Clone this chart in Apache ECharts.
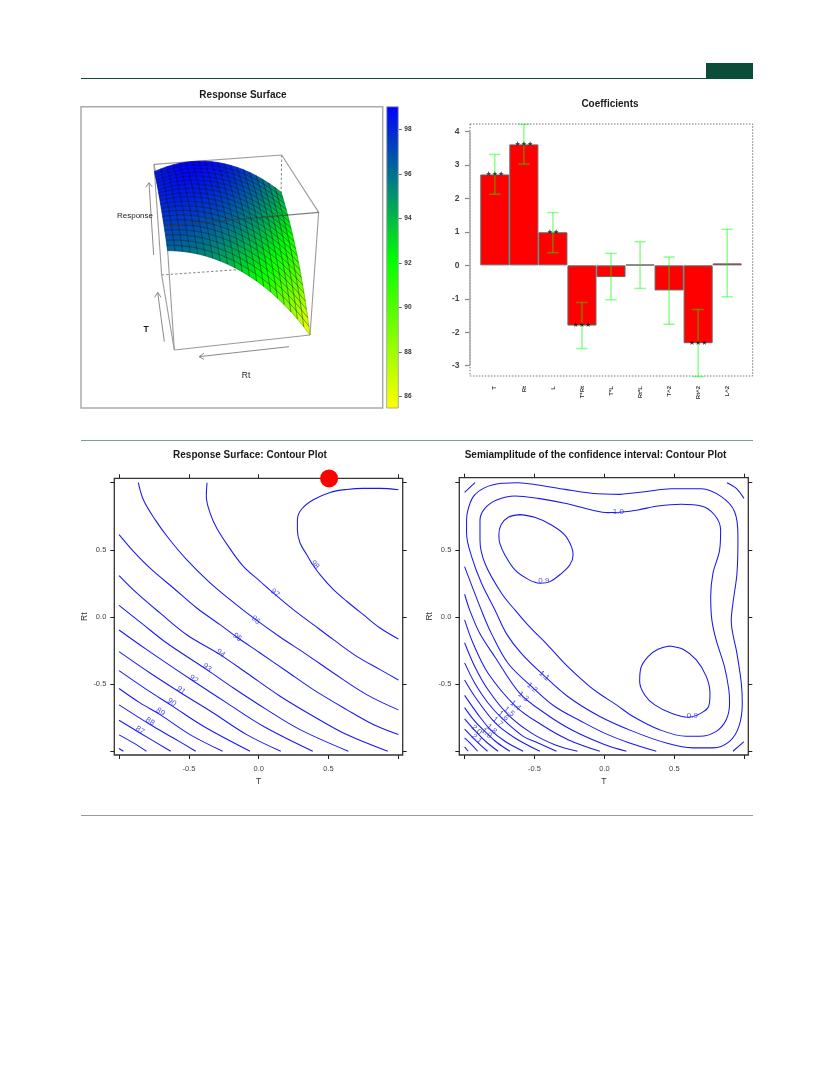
<!DOCTYPE html>
<html><head><meta charset="utf-8">
<style>html,body{margin:0;padding:0;background:#fff}#c{width:833px;height:1091px}</style>
<script src="https://cdn.jsdelivr.net/npm/echarts@6/dist/echarts.min.js"></script>
</head><body><div id="c"></div>
<script>
// ---------- coefficients ----------
const coefNames=['T','Rt','L','T*Rt','T*L','Rt*L','T^2','Rt^2','L^2'];
const coefValues=[2.72,3.62,0.99,-1.80,-0.35,0.02,-0.75,-2.33,0.06];
const coefLow=[2.13,3.03,0.38,-2.49,-1.03,-0.69,-1.76,-3.33,-0.94];
const coefHigh=[3.32,4.22,1.58,-1.11,0.36,0.71,0.25,-1.32,1.08];
const coefStars=['★★★','★★★','★★','★★★','','','','★★★',''];
const coefTicks=[-3,-2,-1,0,1,2,3,4];
// ---------- response surface: rows Rt -1..1, columns T -1..1 ----------
const surfaceAxis=[-1,-.9,-.8,-.7,-.6,-.5,-.4,-.3,-.2,-.1,0,.1,.2,.3,.4,.5,.6,.7,.8,.9,1];
const surfaceZ=[
[84.96,85.55,86.13,86.70,87.25,87.78,88.30,88.81,89.30,89.77,90.23,90.67,91.10,91.52,91.92,92.30,92.67,93.03,93.37,93.69,94.00],
[85.95,86.53,87.09,87.63,88.17,88.68,89.18,89.67,90.14,90.60,91.04,91.47,91.88,92.27,92.66,93.02,93.37,93.71,94.03,94.34,94.63],
[86.89,87.45,87.99,88.52,89.03,89.53,90.02,90.48,90.94,91.38,91.80,92.21,92.60,92.98,93.34,93.69,94.03,94.35,94.65,94.94,95.21],
[87.78,88.32,88.85,89.36,89.85,90.33,90.80,91.25,91.68,92.10,92.51,92.90,93.28,93.64,93.98,94.31,94.63,94.93,95.21,95.49,95.74],
[88.63,89.15,89.66,90.15,90.63,91.09,91.54,91.97,92.39,92.79,93.18,93.55,93.91,94.25,94.58,94.89,95.19,95.47,95.74,95.99,96.23],
[89.43,89.93,90.42,90.90,91.36,91.80,92.23,92.65,93.05,93.43,93.80,94.15,94.49,94.82,95.13,95.42,95.70,95.97,96.22,96.45,96.67],
[90.19,90.68,91.15,91.60,92.05,92.47,92.88,93.28,93.66,94.03,94.38,94.72,95.04,95.34,95.64,95.91,96.17,96.42,96.65,96.87,97.07],
[90.89,91.36,91.81,92.25,92.67,93.08,93.48,93.85,94.22,94.57,94.90,95.22,95.52,95.81,96.08,96.34,96.59,96.81,97.03,97.23,97.41],
[91.55,92.00,92.44,92.86,93.26,93.65,94.03,94.39,94.73,95.06,95.38,95.68,95.97,96.24,96.49,96.73,96.96,97.17,97.36,97.54,97.71],
[92.16,92.59,93.01,93.41,93.80,94.17,94.53,94.87,95.20,95.51,95.81,96.09,96.36,96.61,96.85,97.07,97.28,97.47,97.65,97.81,97.96],
[92.73,93.14,93.54,93.93,94.30,94.65,94.99,95.32,95.63,95.92,96.20,96.46,96.71,96.95,97.17,97.37,97.56,97.74,97.89,98.04,98.17],
[93.25,93.65,94.03,94.39,94.75,95.08,95.40,95.71,96.00,96.28,96.54,96.79,97.02,97.24,97.44,97.62,97.79,97.95,98.09,98.22,98.33],
[93.72,94.10,94.46,94.81,95.14,95.46,95.77,96.05,96.33,96.59,96.83,97.06,97.27,97.47,97.65,97.82,97.97,98.11,98.24,98.35,98.44],
[94.14,94.50,94.85,95.18,95.49,95.79,96.08,96.35,96.60,96.84,97.07,97.28,97.48,97.67,97.82,97.97,98.11,98.23,98.35,98.43,98.50],
[94.52,94.86,95.19,95.50,95.80,96.08,96.35,96.60,96.84,97.06,97.27,97.46,97.64,97.80,97.95,98.08,98.20,98.30,98.39,98.46,98.52],
[94.85,95.17,95.48,95.78,96.06,96.32,96.57,96.81,97.03,97.23,97.42,97.59,97.75,97.90,98.03,98.14,98.24,98.33,98.40,98.45,98.49],
[95.14,95.45,95.74,96.01,96.28,96.52,96.75,96.97,97.17,97.36,97.53,97.69,97.83,97.95,98.07,98.16,98.24,98.31,98.36,98.40,98.42],
[95.37,95.66,95.93,96.19,96.43,96.66,96.88,97.07,97.26,97.43,97.58,97.72,97.84,97.95,98.04,98.12,98.19,98.24,98.27,98.29,98.29],
[95.56,95.83,96.09,96.33,96.55,96.76,96.96,97.14,97.30,97.45,97.59,97.71,97.82,97.91,97.99,98.04,98.09,98.12,98.13,98.13,98.12],
[95.70,95.95,96.19,96.41,96.62,96.81,96.99,97.15,97.30,97.43,97.55,97.65,97.74,97.82,97.87,97.91,97.94,97.95,97.95,97.93,97.90],
[95.80,96.03,96.25,96.46,96.65,96.82,96.98,97.13,97.26,97.37,97.47,97.55,97.62,97.67,97.72,97.74,97.75,97.74,97.72,97.68,97.64]];
const barTicks=[86,88,90,92,94,96,98];
// ---------- response contour plot [T, Rt] ----------
const r98=[[1,.948],[.869,.958],[.749,.958],[.63,.95],[.511,.928],[.391,.873],[.308,.804],[.277,.725],[.277,.65],[.296,.551],[.344,.464],[.379,.402],[.439,.315],[.535,.203],[.63,.117],[.749,.017],[.869,-.082],[1,-.164]];
const r97=[[-.37,1],[-.375,.898],[-.348,.774],[-.301,.663],[-.217,.526],[-.11,.377],[.01,.266],[.105,.179],[.248,.055],[.391,-.057],[.535,-.169],[.702,-.293],[.869,-.392],[1,-.469]];
const r96=[[-.862,1],[-.826,.873],[-.742,.725],[-.647,.588],[-.516,.427],[-.36,.266],[-.205,.129],[-.038,-.007],[.153,-.149],[.344,-.28],[.535,-.417],[.773,-.578],[1,-.692]];
const r95=[[-1,.613],[-.897,.489],[-.766,.352],[-.611,.216],[-.444,.067],[-.277,-.057],[-.158,-.149],[.01,-.268],[.2,-.404],[.391,-.541],[.63,-.69],[.821,-.801],[1,-.876]];
const r94=[[-1,.308],[-.874,.179],[-.707,.03],[-.516,-.132],[-.277,-.28],[-.086,-.417],[.153,-.59],[.391,-.739],[.63,-.876],[.924,-1]];
const r93=[[-1,.087],[-.826,-.057],[-.659,-.194],[-.372,-.392],[-.181,-.529],[.057,-.69],[.296,-.839],[.642,-1]];
const r92=[[-1,-.097],[-.802,-.243],[-.466,-.479],[-.229,-.64],[.033,-.814],[.387,-1]];
const r91=[[-1,-.258],[-.778,-.417],[-.556,-.566],[-.325,-.715],[-.086,-.876],[.158,-1]];
const r90=[[-1,-.4],[-.802,-.541],[-.623,-.66],[-.396,-.814],[-.062,-1]];
const r89=[[-1,-.533],[-.85,-.64],[-.706,-.727],[-.492,-.876],[-.258,-1]];
const r88=[[-1,-.655],[-.778,-.801],[-.611,-.901],[-.451,-1]];
const r87=[[-1,-.769],[-.85,-.864],[-.63,-1]];
const r86=[[-1,-.878],[-.897,-.938],[-.804,-1]];
const r85=[[-1,-.98],[-.969,-1]];
const respLabels=[[.403,.39,'98',-50],[.117,.179,'97',-40],[-.021,-.022,'96',-40],[-.153,-.151,'95',-38],[-.272,-.27,'94',-38],[-.37,-.377,'93',-36],[-.465,-.462,'92',-36],[-.556,-.546,'91',-36],[-.623,-.635,'90',-36],[-.704,-.707,'89',-34],[-.778,-.779,'88',-32],[-.85,-.844,'87',-32]];
const designPoint=[[.504,1.032]];
// ---------- semiamplitude contour plot [T, Rt] ----------
const sA=[[-.605,.762],[-.498,.742],[-.379,.685],[-.283,.61],[-.236,.524],[-.224,.462],[-.248,.387],[-.307,.325],[-.39,.263],[-.462,.251],[-.545,.28],[-.64,.35],[-.712,.462],[-.748,.548],[-.755,.61],[-.74,.685],[-.688,.742],[-.605,.762]];
const sB=[[.467,-.216],[.562,-.241],[.657,-.32],[.729,-.444],[.755,-.568],[.745,-.667],[.681,-.722],[.598,-.747],[.479,-.717],[.36,-.655],[.288,-.581],[.252,-.481],[.26,-.382],[.312,-.295],[.383,-.241],[.467,-.216]];
const s10=[[.105,.779],[.24,.797],[.383,.826],[.55,.839],[.693,.826],[.788,.759],[.831,.648],[.824,.499],[.776,.325],[.76,.151],[.769,-.027],[.8,-.175],[.859,-.372],[.89,-.544],[.895,-.643],[.871,-.766],[.8,-.852],[.681,-.889],[.586,-.889],[.395,-.84],[.205,-.741],[.086,-.655],[-.033,-.574],[-.117,-.507],[-.26,-.372],[-.414,-.2],[-.533,-.076],[-.636,.047],[-.736,.176],[-.855,.4],[-.89,.573],[-.89,.722],[-.855,.809],[-.771,.871],[-.64,.901],[-.474,.883],[-.283,.846],[-.093,.797],[.026,.777],[.105,.779]];
const s11=[[.121,.913],[.288,.933],[.479,.955],[.693,.955],[.836,.896],[.931,.784],[.955,.598],[.948,.325],[.919,.102],[.907,-.027],[.948,-.273],[.979,-.495],[.986,-.643],[.962,-.815],[.895,-.926],[.776,-.975],[.633,-.975],[.443,-.939],[.205,-.852],[-.033,-.741],[-.26,-.594],[-.431,-.438],[-.593,-.273],[-.7,-.126],[-.783,.052],[-.879,.251],[-.95,.449],[-.986,.623],[-.986,.697],[-.979,.784],[-.938,.896],[-.855,.963],[-.736,.995],[-.617,1],[-.474,.983],[-.283,.95],[-.093,.921],[.121,.913]];
const s12=[[-1,.375],[-.879,.047],[-.807,-.126],[-.688,-.347],[-.514,-.525],[-.355,-.667],[-.164,-.778],[0,-.865],[.169,-.935],[.371,-1]];
const s13=[[-1,.169],[-.962,.047],[-.89,-.126],[-.783,-.298],[-.605,-.569],[-.426,-.717],[-.236,-.84],[0,-.95],[.157,-1]];
const s14=[[-1,-.022],[-.938,-.2],[-.831,-.421],[-.633,-.667],[-.45,-.803],[-.26,-.914],[-.033,-1]];
const s15=[[-1,-.192],[-.926,-.372],[-.831,-.544],[-.688,-.729],[-.521,-.865],[-.355,-.951],[-.193,-1]];
const s16=[[-1,-.342],[-.926,-.495],[-.831,-.643],[-.729,-.759],[-.581,-.889],[-.474,-.938],[-.343,-1]];
const s17=[[-1,-.47],[-.926,-.594],[-.779,-.791],[-.64,-.901],[-.462,-1]];
const s18=[[-1,-.584],[-.902,-.729],[-.819,-.835],[-.712,-.926],[-.581,-1]];
const s19=[[-1,-.675],[-.926,-.778],[-.855,-.852],[-.771,-.933],[-.676,-1]];
const s20=[[-1,-.759],[-.914,-.86],[-.843,-.933],[-.76,-1]];
const s21=[[-1,-.835],[-.914,-.926],[-.836,-1]];
const s22=[[-1,-.901],[-.95,-.951],[-.907,-1]];
const s23=[[-1,-.968],[-.974,-1]];
const cornerTL=[[-1,.928],[-.926,1]];
const cornerTR=[[.876,1],[.943,.958],[.998,.883]];
const cornerBR=[[.919,-1],[.998,-.928]];
const semiLabels=[[-.433,.268,'0.9',0],[.1,.784,'1.0',0],[.629,-.734,'0.9',0],[-.431,-.439,'1.1',-40],[-.517,-.526,'1.2',-40],[-.581,-.593,'1.3',-40],[-.636,-.66,'1.4',-40],[-.681,-.705,'1.5',-40],[-.724,-.737,'1.6',-40],[-.764,-.782,'1.7',-40],[-.807,-.836,'1.8',-40],[-.843,-.866,'1.9',-40],[-.914,-.841,'2.0',-40],[-.914,-.908,'2.1',-40]];
const contourTicks=[-1,-.5,0,.5,1];
const contourTickLabels=[-.5,0,.5];

const FONT='"Liberation Sans",Arial,sans-serif';
const BLUE='#1818f0';
const respLines=[r98,r97,r96,r95,r94,r93,r92,r91,r90,r89,r88,r87,r86,r85];
const semiLines=[sA,sB,s10,s11,s12,s13,s14,s15,s16,s17,s18,s19,s20,s21,s22,s23,cornerTL,cornerTR,cornerBR];

// page-pixel helper based on the surface panel
const px=(x,y)=>[80+x/3,60+y/3];
const P={tbl:[222,313],tbr:[605,285],tfr:[716,457],tfl:[258,497],bbl:[245,645],bbr:[600,620],bfr:[690,825],bfl:[283,870]};
const zLo=84.96,zHi=98.52;
function project(t,r,z){
  const u=(r+1)/2,v=(t+1)/2,w=(z-zLo)/(zHi-zLo);
  const mix=(a,b,f)=>[a[0]+(b[0]-a[0])*f,a[1]+(b[1]-a[1])*f];
  const bot=mix(mix(P.bfr,P.bbr,v),mix(P.bfl,P.bbl,v),u);
  const top=mix(mix(P.tfr,P.tbr,v),mix(P.tfl,P.tbl,v),u);
  const q=mix(bot,top,w);
  return px(q[0],q[1]);
}
function ramp(z){
  const t=Math.max(0,Math.min(1,(z-zLo)/(zHi-zLo)));
  if(t<.5){return `rgb(${Math.round(255*(1-t*2))},255,0)`;}
  const k=(t-.5)*2;
  return `rgb(0,${Math.round(255*(1-k))},${Math.round(255*k)})`;
}
const cells=[];
for(let i=surfaceAxis.length-2;i>=0;i--){ // T from back to front
  for(let j=0;j<surfaceAxis.length-1;j++){cells.push([i,j]);}
}
const segs=(list,style,z)=>({type:'custom',coordinateSystem:'cartesian2d',xAxisIndex:0,yAxisIndex:0,z,silent:true,clip:false,animation:false,
  data:list.map((_,i)=>[i,0]),
  renderItem:(p,api)=>{const s=list[api.value(0)];const a=api.coord(px(s[0][0],s[0][1])),b=api.coord(px(s[1][0],s[1][1]));
    return {type:'line',shape:{x1:a[0],y1:a[1],x2:b[0],y2:b[1]},style:Object.assign({fill:null},style)};}});
const backEdges=[[P.tbr,P.bbr],[P.bbl,P.bbr],[P.bbr,P.bfr]];
const solidEdges=[[P.tbl,P.tbr],[P.tbr,P.tfr],[P.tfr,P.bfr],[P.bfr,P.bfl],[P.bfl,P.bbl],[P.bbl,P.tbl],[P.tbl,P.tfl],[P.tfl,P.bfl]];
const arrows=[[[221,585],[207,368]],[[207,368],[197,382]],[[207,368],[217,381]],[[253,845],[233,697]],[[233,697],[224,712]],[[233,697],[243,712]],[[627,860],[357,890]],[[357,890],[372,880]],[[357,890],[372,898]]];

function contourGrid(idx,xr,yr){
  const g=idx;
  const common={type:'value',gridIndex:g,splitLine:{show:false},
    axisLine:{show:false,onZero:false},axisTick:{show:true,length:4,inside:false,lineStyle:{color:'#222',width:1},customValues:contourTicks}};
  const lab={show:true,fontFamily:FONT,fontSize:7.5,color:'#444',customValues:contourTickLabels,formatter:v=>v.toFixed(1),margin:10};
  return {
   x:[Object.assign({},common,{min:xr[0],max:xr[1],position:'bottom',name:'T',nameLocation:'middle',nameGap:22,nameTextStyle:{fontFamily:FONT,fontSize:8.5,color:'#333'},axisLabel:lab}),
      Object.assign({},common,{min:xr[0],max:xr[1],position:'top',axisLabel:{show:false}})],
   y:[Object.assign({},common,{min:yr[0],max:yr[1],position:'left',name:'Rt',nameLocation:'middle',nameGap:24,nameTextStyle:{fontFamily:FONT,fontSize:8.5,color:'#333'},axisLabel:Object.assign({},lab,{margin:8})}),
      Object.assign({},common,{min:yr[0],max:yr[1],position:'right',axisLabel:{show:false}})]
  };
}
const c1=contourGrid(1,[-1.034,1.031],[-1.028,1.033]);
const c2=contourGrid(2,[-1.038,1.029],[-1.028,1.037]);
const pageX={type:'value',gridIndex:0,min:0,max:833,show:false};
const pageY={type:'value',gridIndex:0,min:0,max:1091,inverse:true,show:false};
const xAxes=[pageX,c1.x[0],c1.x[1],c2.x[0],c2.x[1],
 {type:'category',gridIndex:3,data:coefNames,boundaryGap:true,position:'bottom',axisLine:{show:false,onZero:false},axisTick:{show:false},
  axisLabel:{rotate:90,interval:0,fontFamily:FONT,fontSize:6,fontWeight:'bold',color:'#333',margin:10,align:'right',verticalAlign:'middle'}},
 {type:'value',gridIndex:4,min:0,max:1,show:false}];
const yAxes=[pageY,c1.y[0],c1.y[1],c2.y[0],c2.y[1],
 {type:'value',gridIndex:3,min:-3.31,max:4.23,offset:10.3,splitLine:{show:false},axisLine:{show:false,onZero:false},
  axisTick:{show:true,length:5,lineStyle:{color:'#888',width:1.2},customValues:coefTicks},
  axisLabel:{fontFamily:FONT,fontSize:8.5,fontWeight:'bold',color:'#444',margin:10.5,customValues:coefTicks,formatter:v=>String(v)}},
 {type:'value',gridIndex:4,min:85.49,max:99.02,position:'right',splitLine:{show:false},axisLine:{show:false,onZero:false},
  axisTick:{show:true,length:3.5,lineStyle:{color:'#666',width:1},customValues:barTicks},
  axisLabel:{fontFamily:FONT,fontSize:6.5,fontWeight:'bold',color:'#333',margin:6,customValues:barTicks,formatter:v=>String(v)}}];

const series=[];
series.push(segs(backEdges,{stroke:'#777',lineWidth:.9,lineDash:[2.5,2]},1));
series.push(segs(solidEdges,{stroke:'#9a9a9a',lineWidth:1.1},1));
series.push(segs(arrows,{stroke:'#8a8a8a',lineWidth:1},1));
series.push({type:'custom',coordinateSystem:'cartesian2d',xAxisIndex:0,yAxisIndex:0,z:3,silent:true,clip:false,animation:false,progressive:0,
  data:cells,renderItem:(p,api)=>{
    const i=api.value(0),j=api.value(1);
    const T0=surfaceAxis[i],T1=surfaceAxis[i+1],R0=surfaceAxis[j],R1=surfaceAxis[j+1];
    const z00=surfaceZ[j][i],z10=surfaceZ[j][i+1],z01=surfaceZ[j+1][i],z11=surfaceZ[j+1][i+1];
    const pts=[project(T0,R0,z00),project(T1,R0,z10),project(T1,R1,z11),project(T0,R1,z01)].map(q=>api.coord(q));
    const c=ramp((z00+z10+z01+z11)/4);
    return {type:'polygon',shape:{points:pts},style:{fill:c,stroke:c,lineWidth:.6}};
  }});
// mesh lines drawn after the fill so that no cell hides them
series.push({type:'custom',coordinateSystem:'cartesian2d',xAxisIndex:0,yAxisIndex:0,z:3.5,silent:true,clip:false,animation:false,progressive:0,
  data:cells,renderItem:(p,api)=>{
    const i=api.value(0),j=api.value(1);
    const T0=surfaceAxis[i],T1=surfaceAxis[i+1],R0=surfaceAxis[j],R1=surfaceAxis[j+1];
    const z00=surfaceZ[j][i],z10=surfaceZ[j][i+1],z01=surfaceZ[j+1][i],z11=surfaceZ[j+1][i+1];
    const pts=[project(T0,R0,z00),project(T1,R0,z10),project(T1,R1,z11),project(T0,R1,z01)].map(q=>api.coord(q));
    return {type:'polygon',shape:{points:pts},style:{fill:null,stroke:'rgba(0,0,0,.42)',lineWidth:.5}};
  }});
series.push(segs([[P.tfl,P.tfr]],{stroke:'rgba(60,60,60,.65)',lineWidth:1.1},4));
// colour bar
series.push({type:'custom',coordinateSystem:'cartesian2d',xAxisIndex:6,yAxisIndex:6,z:3,silent:true,animation:false,data:[[0,85.49,1,99.02]],
  renderItem:(p,api)=>{const a=api.coord([api.value(0),api.value(3)]),b=api.coord([api.value(2),api.value(1)]);
    return {type:'rect',shape:{x:a[0],y:a[1],width:b[0]-a[0],height:b[1]-a[1]},style:{stroke:'#aaa',lineWidth:1,
      fill:{type:'linear',x:0,y:1,x2:0,y2:0,colorStops:[{offset:0,color:'#ffff00'},{offset:.49,color:'#00ff00'},{offset:1,color:'#0000ff'}]}}};}});
// coefficients
series.push({type:'bar',xAxisIndex:5,yAxisIndex:5,data:coefValues,barWidth:'100%',z:2,silent:true,animation:false,itemStyle:{color:'#ff0000',borderColor:'#666',borderWidth:1}});
series.push({type:'custom',coordinateSystem:'cartesian2d',xAxisIndex:5,yAxisIndex:5,z:3,silent:true,clip:false,animation:false,
  data:coefNames.map((n,i)=>[i,coefLow[i],coefHigh[i]]),encode:{x:0,y:[1,2]},
  renderItem:(p,api)=>{const i=api.value(0),lo=api.coord([i,api.value(1)]),hi=api.coord([i,api.value(2)]);const w=5.7;
    const st={stroke:'rgba(0,255,0,.45)',lineWidth:1.5,fill:null};
    return {type:'group',children:[
      {type:'line',shape:{x1:lo[0],y1:lo[1],x2:hi[0],y2:hi[1]},style:st},
      {type:'line',shape:{x1:lo[0]-w,y1:lo[1],x2:lo[0]+w,y2:lo[1]},style:st},
      {type:'line',shape:{x1:hi[0]-w,y1:hi[1],x2:hi[0]+w,y2:hi[1]},style:st}]};}});
series.push({type:'scatter',xAxisIndex:5,yAxisIndex:5,z:4,silent:true,animation:false,symbolSize:1,itemStyle:{color:'transparent'},
  data:coefNames.map((n,i)=>[i,coefValues[i],coefStars[i]]).filter(d=>d[2]),
  label:{show:true,position:'inside',formatter:p=>p.data[2],color:'#111',fontFamily:'"DejaVu Sans"',fontSize:7}});
// contours
const lineOf=(d,xi,yi)=>({type:'line',xAxisIndex:xi,yAxisIndex:yi,data:d,smooth:.35,showSymbol:false,symbol:'none',silent:true,animation:false,z:3,
  lineStyle:{color:BLUE,width:1.05},clip:false});
respLines.forEach(d=>series.push(lineOf(d,1,1)));
semiLines.forEach(d=>series.push(lineOf(d,3,3)));
const labelsOf=(d,xi,yi)=>d.map(l=>({type:'scatter',xAxisIndex:xi,yAxisIndex:yi,z:4,silent:true,animation:false,symbolSize:1,itemStyle:{color:'transparent'},
  data:[[l[0],l[1]]],label:{show:true,position:'inside',formatter:l[2],rotate:l[3],color:'#1f1fee',fontFamily:FONT,fontSize:8}}));
labelsOf(respLabels,1,1).forEach(s=>series.push(s));
labelsOf(semiLabels,3,3).forEach(s=>series.push(s));
series.push({type:'scatter',xAxisIndex:1,yAxisIndex:1,z:8,silent:true,clip:false,animation:false,symbolSize:18,itemStyle:{color:'#ff0000',opacity:1},data:designPoint});

const text=(t,x,y,o)=>({type:'text',x,y,silent:true,z:5,style:Object.assign({text:t,fontFamily:FONT,fontSize:10,fontWeight:'bold',fill:'#1a1a1a',textAlign:'center',textVerticalAlign:'middle'},o||{})});
const rule=(y,c,w)=>({type:'line',silent:true,shape:{x1:81,y1:y,x2:753,y2:y},style:{stroke:c,lineWidth:w}});
const graphic=[
 rule(78.5,'#0b4d38',1.2),rule(440.5,'#6fa596',1),rule(815.5,'#9a9a9a',1),
 {type:'rect',silent:true,shape:{x:706,y:63,width:47,height:15},style:{fill:'#0b4d38'}},
 {type:'rect',silent:true,shape:{x:81,y:106.7,width:301.7,height:301.3},style:{fill:null,stroke:'#aaa',lineWidth:1.5}},
 {type:'rect',silent:true,shape:{x:470,y:124,width:282.7,height:252},style:{fill:null,stroke:'#777',lineWidth:1,lineDash:[1.5,1.5]}},
 {type:'line',silent:true,z:1,shape:{x1:470,y1:131.7,x2:470,y2:365.7},style:{stroke:'#aaa',lineWidth:1.5}},
 text('Response Surface',243,95.5),
 text('Coefficients',610,104.5),
 text('Response Surface: Contour Plot',250,455.5),
 text('Semiamplitude of the confidence interval: Contour Plot',595.5,455),
 text('Response',135,215.5,{fontWeight:'normal',fontSize:8}),
 text('T',146,330,{fontSize:8.5}),
 text('Rt',246,376,{fontWeight:'normal',fontSize:8.5})
];
const chart=echarts.init(document.getElementById('c'),null,{renderer:'canvas',width:833,height:1091});
chart.setOption({
 animation:false,backgroundColor:'#fff',graphic,
 grid:[{left:0,top:0,width:833,height:1091,show:false},
  {left:114.3,top:478.3,width:288.4,height:276.7,show:true,borderColor:'#333',borderWidth:1.3,backgroundColor:'#fff',containLabel:false},
  {left:459.3,top:477.7,width:289,height:277.3,show:true,borderColor:'#333',borderWidth:1.3,backgroundColor:'#fff',containLabel:false},
  {left:480.3,top:124,width:261.4,height:252,show:false,containLabel:false},
  {left:386.7,top:106.7,width:11.6,height:301.3,show:false,containLabel:false}],
 xAxis:xAxes,yAxis:yAxes,series});
</script></body></html>
